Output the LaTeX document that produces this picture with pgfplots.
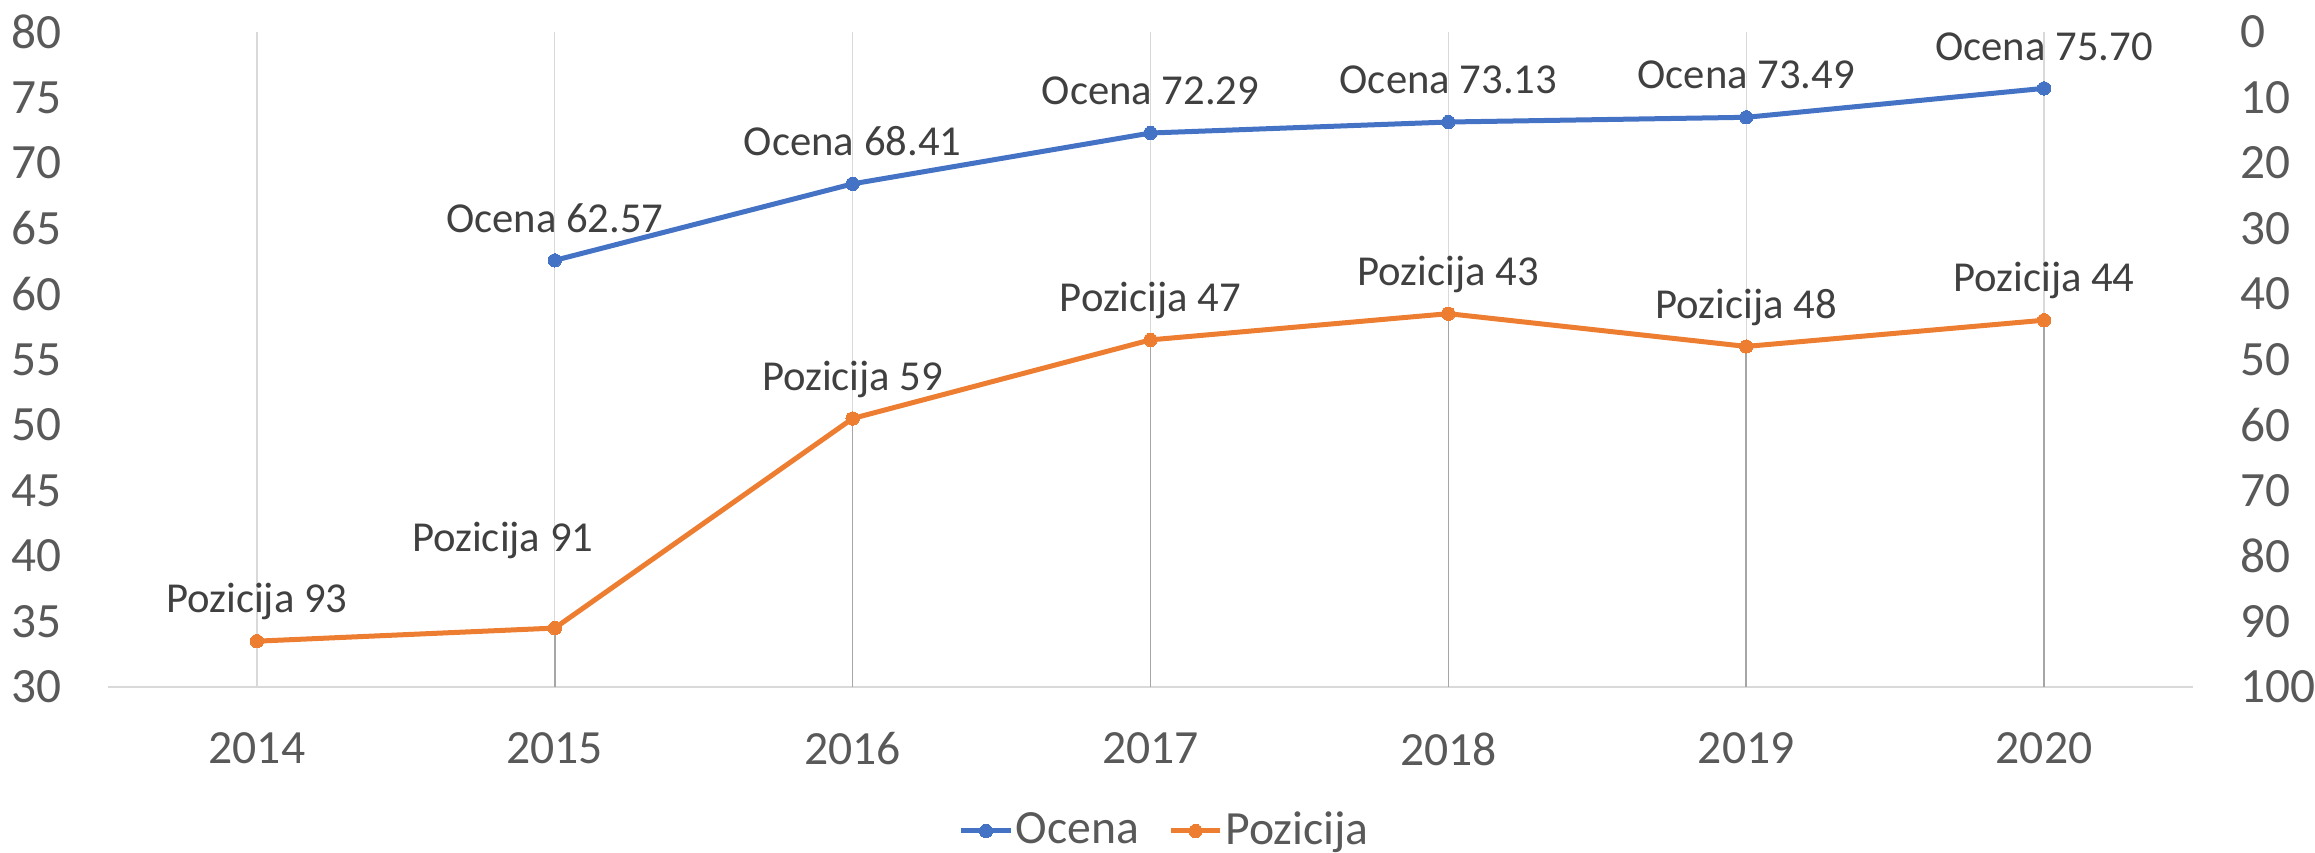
\documentclass[border=0pt]{standalone}
\usepackage{fontspec}
\setmainfont{Carlito}
\usepackage{pgfplots}
\pgfplotsset{compat=1.18}
\definecolor{cblue}{HTML}{4472C4}
\definecolor{corange}{HTML}{ED7D31}
\definecolor{gridgray}{HTML}{D9D9D9}
\definecolor{dropgray}{HTML}{A6A6A6}
\definecolor{ticktext}{HTML}{595959}
\definecolor{labeltext}{HTML}{404040}
\begin{document}
\begin{tikzpicture}
\path[use as bounding box] (-32.4pt,-49.5pt) rectangle (662.1pt,206.1pt);
\pgfplotsset{
  base/.style={
    scale only axis, width=625.5pt, height=196.5pt,
    at={(0pt,0pt)}, anchor=south west,
    xmin=-0.5, xmax=6.5,
    major tick length=0pt,
    /pgf/number format/assume math mode=true,
    tick label style={font=\fontsize{14.8}{16}\selectfont, text=ticktext},
  },
  ser/.style={line width=1.5pt, mark=*, mark size=2pt,
    mark options={solid, fill=#1, draw=#1, line width=0pt}, color=#1},
  lab/.style={nodes near coords, point meta=explicit symbolic,
    nodes near coords style={font=\fontsize{12.8}{14}\selectfont, text=labeltext,
      anchor=base, yshift=8.5pt, inner sep=0pt}},
}
\begin{axis}[base,
  ymin=30, ymax=80, ytick={30,35,...,80},
  axis x line*=bottom, axis y line*=left,
  x axis line style={draw=gridgray, line width=0.45pt, -},
  y axis line style={draw=none},
  xtick={0,...,6}, xticklabels={2014,2015,2016,2017,2018,2019,2020},
  xmajorgrids, grid style={draw=gridgray, line width=0.4pt},
  yticklabel style={anchor=east, inner sep=0pt, xshift=-13.8pt},
  xticklabel style={anchor=north, inner sep=0pt, yshift=-13.5pt, font=\fontsize{14.3}{16}\selectfont},
]
\addplot[ser=cblue, lab] coordinates {
  (1,62.57) [Ocena 62.57]
  (2,68.41) [Ocena 68.41]
  (3,72.29) [Ocena 72.29]
  (4,73.13) [Ocena 73.13]
  (5,73.49) [Ocena 73.49]
  (6,75.70) [Ocena 75.70]
};
\end{axis}
\begin{axis}[base,
  ymin=0, ymax=100, y dir=reverse, ytick={0,10,...,100},
  axis y line*=right, axis x line=none,
  y axis line style={draw=none},
  yticklabel style={anchor=west, inner sep=0pt, xshift=14.1pt},
  legend style={at={(0.507,-0.2198)}, anchor=center, draw=none, fill=none,
    legend columns=2, font=\fontsize{14.3}{16}\selectfont, text=ticktext,
    nodes={inner sep=0.8pt},
    /tikz/every even column/.append style={column sep=8pt}},
  legend image code/.code={\draw[mark repeat=2,mark phase=2] plot coordinates {(0cm,0cm) (0.26cm,0cm) (0.52cm,0cm)};},
]
\addlegendimage{ser=cblue}\addlegendentry{Ocena}
\addplot[draw=none, mark=none, forget plot,
  error bars/.cd, y dir=plus, y explicit, error mark=none,
  error bar style={draw=dropgray, line width=0.45pt, solid}] coordinates {
  (1,91) +- (0,9)
  (2,59) +- (0,41)
  (3,47) +- (0,53)
  (4,43) +- (0,57)
  (5,48) +- (0,52)
  (6,44) +- (0,56)
};
\addplot[ser=corange, lab,
  coordinate style/.condition={x==1}{xshift=-15.6pt, yshift=14.4pt}] coordinates {
  (0,93) [Pozicija 93]
  (1,91) [Pozicija 91]
  (2,59) [Pozicija 59]
  (3,47) [Pozicija 47]
  (4,43) [Pozicija 43]
  (5,48) [Pozicija 48]
  (6,44) [Pozicija 44]
};
\addlegendentry{Pozicija}
\end{axis}
\end{tikzpicture}
\end{document}
